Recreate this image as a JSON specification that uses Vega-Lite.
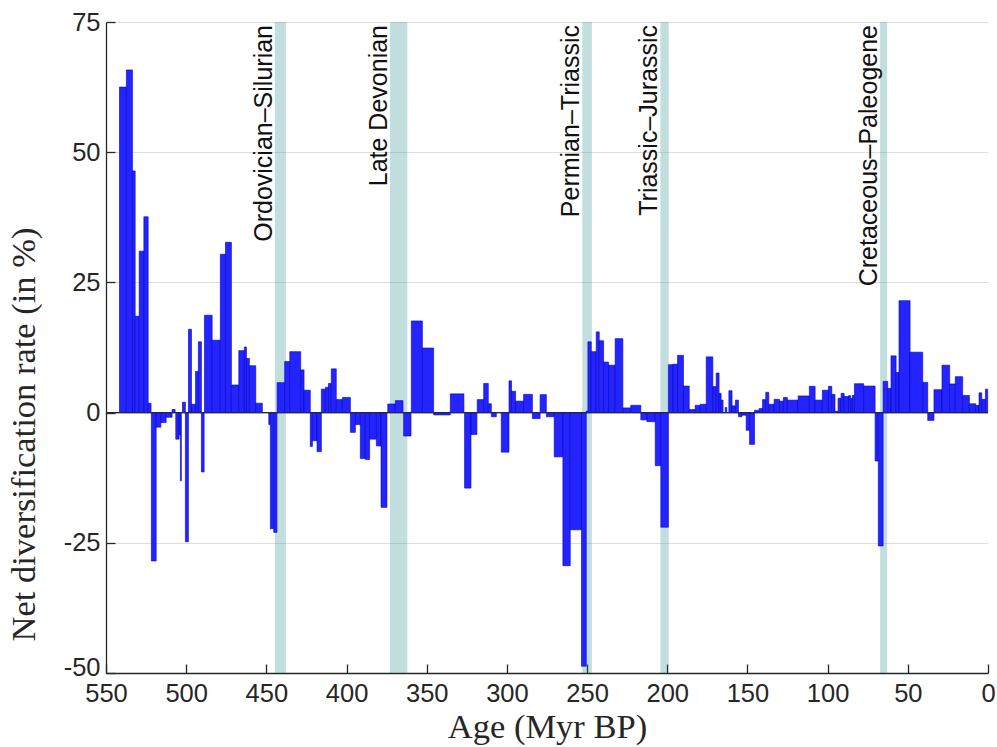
{
  "$schema": "https://vega.github.io/schema/vega-lite/v6.json",
  "width": 882,
  "height": 651,
  "autosize": "none",
  "padding": {"left": 106, "top": 22, "right": 9, "bottom": 74},
  "background": "white",
  "config": {
    "view": {"stroke": null},
    "axis": {"domainColor": "#262626", "tickColor": "#262626", "labelColor": "#262626", "titleColor": "#262626", "labelFont": "Liberation Sans", "titleFont": "Liberation Serif", "titleFontWeight": "normal"}
  },
  "datasets": {
    "bars": [
      {"a0": 541.6, "a1": 537.3, "v": 62.5},
      {"a0": 537.3, "a1": 533.5, "v": 65.8},
      {"a0": 533.5, "a1": 531.8, "v": 46.4},
      {"a0": 531.8, "a1": 529.3, "v": 18.5},
      {"a0": 529.3, "a1": 526.4, "v": 31.0},
      {"a0": 526.4, "a1": 523.7, "v": 37.6},
      {"a0": 523.7, "a1": 521.9, "v": 1.8},
      {"a0": 521.7, "a1": 518.7, "v": -28.5},
      {"a0": 518.7, "a1": 515.8, "v": -2.8},
      {"a0": 515.8, "a1": 512.5, "v": -1.9},
      {"a0": 512.5, "a1": 508.8, "v": -0.9},
      {"a0": 508.8, "a1": 506.9, "v": 0.6},
      {"a0": 506.5, "a1": 504.4, "v": -5.1},
      {"a0": 504.4, "a1": 503.6, "v": -4.3},
      {"a0": 503.6, "a1": 503.0, "v": -13.1},
      {"a0": 502.3, "a1": 500.5, "v": 2.0},
      {"a0": 500.5, "a1": 498.6, "v": -24.8},
      {"a0": 498.6, "a1": 496.7, "v": 16.0},
      {"a0": 496.7, "a1": 494.2, "v": 1.6},
      {"a0": 494.2, "a1": 492.4, "v": 7.9},
      {"a0": 492.4, "a1": 490.5, "v": 13.6},
      {"a0": 490.5, "a1": 488.8, "v": -11.4},
      {"a0": 488.6, "a1": 483.8, "v": 18.7},
      {"a0": 483.8, "a1": 478.7, "v": 13.9},
      {"a0": 478.7, "a1": 475.5, "v": 30.4},
      {"a0": 475.5, "a1": 471.8, "v": 32.7},
      {"a0": 471.8, "a1": 467.2, "v": 5.3},
      {"a0": 467.2, "a1": 463.7, "v": 11.9},
      {"a0": 463.7, "a1": 462.4, "v": 12.6},
      {"a0": 462.4, "a1": 460.6, "v": 10.4},
      {"a0": 460.6, "a1": 456.6, "v": 9.0},
      {"a0": 456.6, "a1": 452.5, "v": 1.8},
      {"a0": 448.5, "a1": 447.5, "v": -2.3},
      {"a0": 447.5, "a1": 445.4, "v": -22.3},
      {"a0": 445.4, "a1": 443.4, "v": -23.0},
      {"a0": 443.3, "a1": 438.6, "v": 5.75},
      {"a0": 438.6, "a1": 435.4, "v": 9.8},
      {"a0": 435.4, "a1": 428.6, "v": 11.7},
      {"a0": 428.6, "a1": 426.5, "v": 8.2},
      {"a0": 426.5, "a1": 422.6, "v": 4.3},
      {"a0": 422.6, "a1": 421.3, "v": -6.5},
      {"a0": 421.3, "a1": 418.4, "v": -5.4},
      {"a0": 418.4, "a1": 415.7, "v": -7.5},
      {"a0": 415.7, "a1": 413.2, "v": 4.5},
      {"a0": 413.2, "a1": 411.3, "v": 4.85},
      {"a0": 411.3, "a1": 409.5, "v": 5.6},
      {"a0": 409.5, "a1": 406.4, "v": 8.4},
      {"a0": 406.4, "a1": 402.6, "v": 2.5},
      {"a0": 402.6, "a1": 397.6, "v": 2.9},
      {"a0": 397.6, "a1": 394.5, "v": -3.8},
      {"a0": 394.5, "a1": 391.4, "v": -2.3},
      {"a0": 391.4, "a1": 388.3, "v": -8.8},
      {"a0": 388.3, "a1": 385.6, "v": -9.0},
      {"a0": 385.6, "a1": 381.4, "v": -5.1},
      {"a0": 381.4, "a1": 378.5, "v": -6.4},
      {"a0": 378.5, "a1": 374.8, "v": -18.2},
      {"a0": 374.3, "a1": 369.6, "v": 1.65},
      {"a0": 369.6, "a1": 364.8, "v": 2.3},
      {"a0": 364.4, "a1": 359.8, "v": -4.5},
      {"a0": 359.6, "a1": 352.7, "v": 17.6},
      {"a0": 352.7, "a1": 345.7, "v": 12.4},
      {"a0": 345.7, "a1": 335.3, "v": -0.45},
      {"a0": 335.3, "a1": 326.8, "v": 3.6},
      {"a0": 326.4, "a1": 322.4, "v": -14.5},
      {"a0": 322.4, "a1": 318.7, "v": -4.2},
      {"a0": 318.5, "a1": 314.5, "v": 2.5},
      {"a0": 314.5, "a1": 311.6, "v": 5.6},
      {"a0": 311.6, "a1": 309.7, "v": 1.7},
      {"a0": 309.7, "a1": 306.6, "v": -0.8},
      {"a0": 303.5, "a1": 298.7, "v": -7.6},
      {"a0": 298.7, "a1": 297.1, "v": 6.1},
      {"a0": 297.1, "a1": 294.6, "v": 4.1},
      {"a0": 294.6, "a1": 289.6, "v": 2.2},
      {"a0": 289.6, "a1": 284.1, "v": 3.5},
      {"a0": 284.1, "a1": 279.3, "v": -1.15},
      {"a0": 279.3, "a1": 275.4, "v": 3.45},
      {"a0": 275.4, "a1": 270.5, "v": -0.8},
      {"a0": 270.5, "a1": 265.1, "v": -8.5},
      {"a0": 265.1, "a1": 260.5, "v": -29.4},
      {"a0": 260.5, "a1": 253.5, "v": -22.5},
      {"a0": 253.5, "a1": 250.5, "v": -48.7},
      {"a0": 250.5, "a1": 249.5, "v": 0.3},
      {"a0": 249.5, "a1": 247.4, "v": 13.6},
      {"a0": 247.4, "a1": 244.3, "v": 11.7},
      {"a0": 244.3, "a1": 242.4, "v": 15.5},
      {"a0": 242.4, "a1": 239.7, "v": 13.8},
      {"a0": 239.7, "a1": 236.6, "v": 9.7},
      {"a0": 236.6, "a1": 232.5, "v": 9.1},
      {"a0": 232.5, "a1": 227.7, "v": 14.2},
      {"a0": 227.7, "a1": 222.8, "v": 0.9},
      {"a0": 222.8, "a1": 216.5, "v": 1.4},
      {"a0": 216.5, "a1": 212.7, "v": -1.4},
      {"a0": 212.7, "a1": 207.5, "v": -1.75},
      {"a0": 207.5, "a1": 204.0, "v": -10.2},
      {"a0": 204.0, "a1": 199.3, "v": -22.0},
      {"a0": 199.3, "a1": 196.5, "v": 9.2},
      {"a0": 196.5, "a1": 193.6, "v": 9.3},
      {"a0": 193.6, "a1": 189.9, "v": 11.0},
      {"a0": 189.9, "a1": 186.3, "v": 5.1},
      {"a0": 186.3, "a1": 182.6, "v": 0.6},
      {"a0": 182.6, "a1": 179.5, "v": 1.4},
      {"a0": 179.5, "a1": 175.7, "v": 1.6},
      {"a0": 175.7, "a1": 171.6, "v": 10.7},
      {"a0": 171.6, "a1": 169.5, "v": 5.0},
      {"a0": 169.5, "a1": 167.7, "v": 7.6},
      {"a0": 167.7, "a1": 166.4, "v": 3.7},
      {"a0": 166.4, "a1": 165.2, "v": 2.4},
      {"a0": 163.9, "a1": 162.9, "v": 1.0},
      {"a0": 161.6, "a1": 159.6, "v": 4.2},
      {"a0": 159.6, "a1": 157.5, "v": 1.3},
      {"a0": 157.5, "a1": 155.6, "v": 2.4},
      {"a0": 155.6, "a1": 153.5, "v": -0.8},
      {"a0": 153.5, "a1": 150.8, "v": -0.5},
      {"a0": 150.8, "a1": 148.7, "v": -3.4},
      {"a0": 148.7, "a1": 145.6, "v": -6.1},
      {"a0": 145.6, "a1": 142.7, "v": 0.45},
      {"a0": 142.7, "a1": 140.6, "v": 0.8},
      {"a0": 140.6, "a1": 138.6, "v": 2.5},
      {"a0": 138.6, "a1": 136.7, "v": 3.9},
      {"a0": 136.7, "a1": 133.4, "v": 1.6},
      {"a0": 133.4, "a1": 130.0, "v": 2.55},
      {"a0": 130.0, "a1": 127.6, "v": 2.2},
      {"a0": 127.6, "a1": 125.1, "v": 2.9},
      {"a0": 125.1, "a1": 118.4, "v": 2.4},
      {"a0": 118.4, "a1": 111.4, "v": 3.2},
      {"a0": 111.4, "a1": 107.8, "v": 5.05},
      {"a0": 107.8, "a1": 103.3, "v": 2.4},
      {"a0": 103.3, "a1": 99.5, "v": 4.3},
      {"a0": 99.5, "a1": 97.4, "v": 5.05},
      {"a0": 97.4, "a1": 95.4, "v": 3.5},
      {"a0": 95.4, "a1": 93.5, "v": 0.25},
      {"a0": 93.5, "a1": 91.6, "v": 2.75},
      {"a0": 91.6, "a1": 89.7, "v": 3.7},
      {"a0": 89.7, "a1": 87.0, "v": 3.1},
      {"a0": 87.0, "a1": 85.6, "v": 3.25},
      {"a0": 85.6, "a1": 84.6, "v": 2.7},
      {"a0": 84.6, "a1": 83.3, "v": 3.3},
      {"a0": 83.3, "a1": 77.5, "v": 5.55},
      {"a0": 77.5, "a1": 70.4, "v": 5.1},
      {"a0": 70.4, "a1": 68.4, "v": -9.3},
      {"a0": 68.4, "a1": 65.4, "v": -25.6},
      {"a0": 65.4, "a1": 62.5, "v": 6.0},
      {"a0": 62.5, "a1": 60.5, "v": 4.65},
      {"a0": 60.5, "a1": 57.3, "v": 10.9},
      {"a0": 57.3, "a1": 55.5, "v": 7.7},
      {"a0": 55.5, "a1": 48.6, "v": 21.5},
      {"a0": 48.6, "a1": 40.7, "v": 11.6},
      {"a0": 40.7, "a1": 37.6, "v": 5.8},
      {"a0": 37.6, "a1": 33.7, "v": -1.5},
      {"a0": 33.7, "a1": 28.7, "v": 4.4},
      {"a0": 28.7, "a1": 23.9, "v": 9.1},
      {"a0": 23.9, "a1": 20.4, "v": 5.5},
      {"a0": 20.4, "a1": 15.8, "v": 6.9},
      {"a0": 15.8, "a1": 11.6, "v": 3.3},
      {"a0": 11.6, "a1": 7.7, "v": 1.7},
      {"a0": 7.7, "a1": 5.6, "v": 1.4},
      {"a0": 5.6, "a1": 3.9, "v": 3.8},
      {"a0": 3.9, "a1": 1.6, "v": 2.55},
      {"a0": 1.6, "a1": 0.2, "v": 4.5}
    ],
    "events": [
      {"s": 444.7, "e": 437.8, "name": "Ordovician–Silurian"},
      {"s": 372.9, "e": 362.1, "name": "Late Devonian"},
      {"s": 253.0, "e": 247.0, "name": "Permian–Triassic"},
      {"s": 204.3, "e": 199.1, "name": "Triassic–Jurassic"},
      {"s": 67.3, "e": 62.9, "name": "Cretaceous–Paleogene"}
    ]
  },
  "layer": [
    {
      "data": {"name": "events"},
      "mark": {"type": "rect", "color": "#218585", "opacity": 0.27},
      "encoding": {
        "x": {"field": "s", "type": "quantitative", "scale": {"domain": [0, 550], "reverse": true, "nice": false, "zero": false},
          "axis": {"values": [550, 500, 450, 400, 350, 300, 250, 200, 150, 100, 50, 0], "title": "Age (Myr BP)", "grid": false, "tickSize": -9, "labelPadding": 17, "labelFontSize": 25.5, "labelFlush": false, "labelOverlap": false, "titleFontSize": 34.5, "titleY": 64, "titleBaseline": "alphabetic", "domainWidth": 1.3, "tickWidth": 1.3}},
        "x2": {"field": "e"},
        "y": {"datum": -50, "type": "quantitative", "scale": {"domain": [-50, 75], "nice": false, "zero": false},
          "axis": {"values": [-50, -25, 0, 25, 50, 75], "title": "Net diversification rate (in %)", "grid": true, "gridColor": "#dedede", "gridWidth": 1, "tickSize": -9, "labelPadding": 15, "labelFontSize": 25.5, "labelOffset": {"condition": {"test": "datum.value == -50", "value": -6}, "value": 0}, "labelFlush": false, "labelOverlap": false, "titleFontSize": 34.5, "labelExpr": "'' + datum.value", "titleX": -72, "titleY": 412, "titleBaseline": "alphabetic", "domainWidth": 1.3, "tickWidth": 1.3}},
        "y2": {"datum": 75}
      }
    },
    {
      "data": {"name": "bars"},
      "mark": {"type": "rect", "fill": "#2424ff", "stroke": "#0000c0", "strokeWidth": 0.6},
      "encoding": {
        "x": {"field": "a0", "type": "quantitative"},
        "x2": {"field": "a1"},
        "y": {"field": "v", "type": "quantitative"},
        "y2": {"datum": 0}
      }
    },
    {
      "data": {"values": [{"z": 0}]},
      "mark": {"type": "rule", "color": "#262640", "strokeWidth": 1.2},
      "encoding": {
        "y": {"field": "z", "type": "quantitative"}
      }
    },
    {
      "data": {"name": "events"},
      "mark": {"type": "text", "angle": 270, "align": "right", "baseline": "alphabetic", "font": "Liberation Sans", "fontSize": 25, "color": "#111111", "dy": -3, "dx": -3},
      "encoding": {
        "x": {"field": "s", "type": "quantitative"},
        "y": {"datum": 75, "type": "quantitative"},
        "text": {"field": "name"}
      }
    }
  ]
}
